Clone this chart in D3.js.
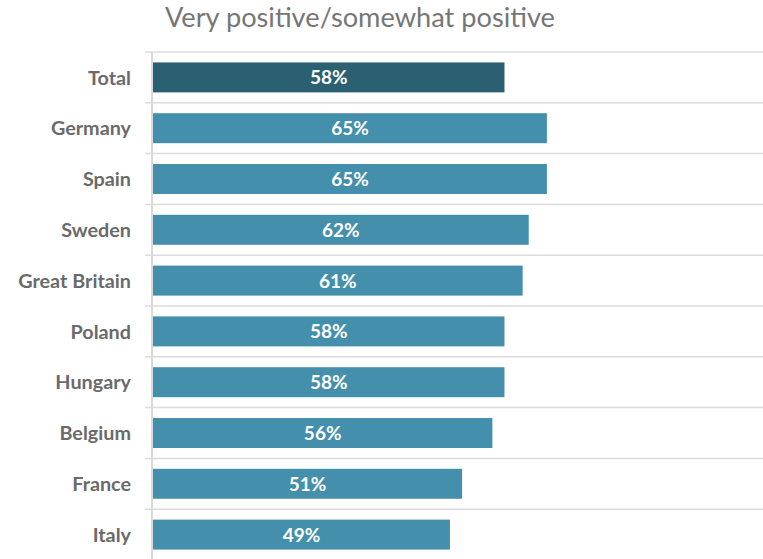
<!DOCTYPE html>
<html>
<head>
<meta charset="utf-8">
<script src="https://cdn.jsdelivr.net/npm/d3@7"></script>
<style>
  html, body { margin: 0; padding: 0; background: #fff; }
  svg { display: block; }
</style>
</head>
<body>
<svg id="chart" width="763" height="559"></svg>
<script>
const categories = ["Total", "Germany", "Spain", "Sweden", "Great Britain", "Poland", "Hungary", "Belgium", "France", "Italy"];
const values = [58, 65, 65, 62, 61, 58, 58, 56, 51, 49];
const valueLabels = ["58%", "65%", "65%", "62%", "61%", "58%", "58%", "56%", "51%", "49%"];
const titleText = "Very positive/somewhat positive";

const svg = d3.select("#chart");
const W = 763, H = 559;
const mLeft = 153, mRight = 759, mTop = 52, mBottom = 560;

const x = d3.scaleLinear().domain([0, 100]).range([mLeft, mRight]);
const y = d3.scaleBand().domain(categories).range([mTop, mBottom]).paddingInner(0.41).paddingOuter(0.205);
const step = y.step();

// title
svg.append("text")
  .attr("x", 165).attr("y", 27)
  .attr("font-family", "Lato, 'Open Sans', sans-serif")
  .attr("font-size", 27.2)
  .attr("fill", "#767676")
  .text(titleText);

// separators (band boundaries)
const bounds = d3.range(categories.length + 1).map(i => mTop + i * step);
svg.append("g").selectAll("line").data(bounds).join("line")
  .attr("x1", 145).attr("x2", W)
  .attr("y1", d => d).attr("y2", d => d)
  .attr("stroke", "#dcdcdc").attr("stroke-width", 1.5);

// vertical axis line
svg.append("line")
  .attr("x1", 152).attr("x2", 152)
  .attr("y1", mTop).attr("y2", H)
  .attr("stroke", "#d9d9d9").attr("stroke-width", 2);

// bars
svg.append("g").selectAll("rect").data(categories).join("rect")
  .attr("x", x(0))
  .attr("y", d => y(d))
  .attr("width", (d, i) => x(values[i]) - x(0))
  .attr("height", y.bandwidth())
  .attr("fill", (d, i) => i === 0 ? "#2b6072" : "#438fac");

// value labels
svg.append("g").selectAll("text").data(categories).join("text")
  .attr("x", (d, i) => (x(0) + x(values[i])) / 2)
  .attr("y", d => y(d) + y.bandwidth() / 2)
  .attr("dy", "0.37em")
  .attr("text-anchor", "middle")
  .attr("font-family", "Lato, 'Open Sans', sans-serif")
  .attr("font-weight", "bold")
  .attr("font-size", 19)
  .attr("fill", "#ffffff")
  .text((d, i) => valueLabels[i]);

// category labels
svg.append("g").selectAll("text").data(categories).join("text")
  .attr("x", 131)
  .attr("y", d => y(d) + y.bandwidth() / 2)
  .attr("dy", "0.36em")
  .attr("text-anchor", "end")
  .attr("font-family", "Lato, 'Open Sans', sans-serif")
  .attr("font-weight", "bold")
  .attr("font-size", 19.8)
  .attr("fill", "#6a6a6a")
  .text(d => d);
</script>
</body>
</html>
